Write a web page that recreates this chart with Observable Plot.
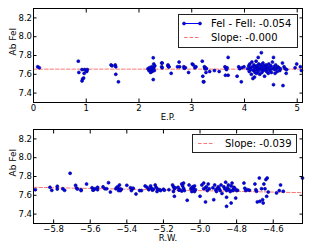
<!DOCTYPE html>
<html>
<head>
<meta charset="utf-8">
<script src="https://cdn.jsdelivr.net/npm/d3@7"></script>
<script src="https://cdn.jsdelivr.net/npm/@observablehq/plot@0.6"></script>
<style>
  html, body { margin: 0; padding: 0; background: #fff; }
  #chart { width: 312px; height: 250px; }
  #chart svg { display: block; }
</style>
</head>
<body>
<div id="chart"></div>
<script>
// ---- Top panel: excitation potential vs abundance ----
const epX = [0.08,0.11,0.85,0.86,0.92,0.93,0.92,0.95,0.96,0.97,1.00,1.01,1.02,
  1.47,1.49,1.55,1.56,1.56,1.61,
  2.17,2.19,2.20,2.21,2.22,2.23,2.24,2.25,2.26,2.27,2.27,2.28,2.28,2.29,2.30,
  2.43,2.44,2.43,2.44,2.55,2.55,2.56,2.57,2.61,
  2.73,2.76,2.77,2.85,2.86,2.88,2.94,3.01,3.03,3.06,3.08,
  3.20,3.21,3.22,3.23,3.24,3.25,3.26,3.27,3.28,3.34,3.43,3.52,
  3.63,3.64,3.65,3.66,3.69,3.69,3.67,
  3.86,3.89,3.91,3.94,3.95,3.99,
  4.06,4.08,4.09,4.10,4.11,4.12,4.13,4.14,4.15,4.16,4.17,4.18,4.19,4.19,4.20,4.21,4.22,4.22,4.23,4.24,
  4.25,4.26,4.26,4.27,4.28,4.29,4.30,4.31,4.32,4.32,4.33,4.34,4.35,4.36,4.37,4.38,4.39,4.40,4.41,4.42,
  4.43,4.44,4.45,4.46,4.47,4.48,4.50,4.51,4.52,4.53,4.55,4.55,4.56,4.57,4.58,4.59,4.60,4.62,4.63,4.65,
  4.67,4.68,4.72,4.73,4.75,4.77,4.79,4.80,
  4.96,4.99,5.06,5.08];
const epAb = [7.68,7.67,7.74,7.62,7.65,7.55,7.53,7.56,7.61,7.65,7.64,7.63,7.65,
  7.70,7.69,7.70,7.68,7.60,7.52,
  7.66,7.64,7.67,7.65,7.62,7.66,7.68,7.63,7.65,7.776,7.544,7.71,7.67,7.64,7.69,
  7.72,7.72,7.68,7.67,7.69,7.70,7.68,7.68,7.61,
  7.68,7.73,7.68,7.68,7.665,7.67,7.62,7.71,7.70,7.67,7.68,
  7.74,7.58,7.52,7.52,7.68,7.66,7.67,7.62,7.66,7.63,7.64,7.63,
  7.68,7.59,7.66,7.65,7.78,7.59,7.67,
  7.58,7.68,7.66,7.52,7.67,7.68,
  7.66,7.69,7.63,7.71,7.67,7.65,7.60,7.73,7.68,7.555,7.64,7.70,7.57,7.66,7.62,7.68,7.74,7.65,7.61,7.69,
  7.66,7.78,7.63,7.71,7.67,7.60,7.65,7.70,7.83,7.68,7.62,7.66,7.72,7.64,7.69,7.58,7.67,7.65,7.70,7.63,
  7.68,7.66,7.61,7.71,7.67,7.64,7.69,7.62,7.66,7.73,7.78,7.49,7.68,7.65,7.61,7.70,7.66,7.63,7.68,7.67,
  7.64,7.66,7.72,7.48,7.68,7.66,7.61,7.65,
  7.67,7.71,7.68,7.64];
const epFitX = [0, 5.1];
const epFitY = [7.655, 7.655];
const epLegend = ["FeI - FeII: -0.054", "Slope: -0.000"];

// ---- Bottom panel: reduced width vs abundance ----
const rwX = [-5.90,
  -5.82,-5.81,-5.78,-5.78,-5.75,-5.74,
  -5.71,
  -5.68,-5.675,-5.67,-5.65,-5.65,
  -5.62,
  -5.59,-5.58,-5.575,-5.56,-5.56,-5.585,
  -5.53,-5.52,-5.51,
  -5.50,-5.49,
  -5.46,-5.455,-5.45,-5.44,-5.44,-5.435,-5.445,-5.43,
  -5.40,
  -5.38,-5.37,-5.365,-5.375,
  -5.35,
  -5.33,-5.32,
  -5.30,-5.29,-5.28,-5.27,-5.265,-5.26,-5.28,-5.255,-5.245,-5.24,-5.235,-5.23,-5.22,-5.215,-5.20,-5.195,
  -5.17,
  -5.15,-5.145,-5.14,-5.145,-5.135,-5.14,
  -5.12,-5.11,-5.10,-5.09,-5.095,-5.09,-5.085,-5.10,-5.115,
  -5.07,
  -5.06,-5.05,-5.045,-5.04,-5.03,-5.035,-5.03,-5.045,-5.025,
  -5.00,
  -4.99,-4.98,-4.98,-4.97,-4.965,-4.96,-4.955,-4.95,-4.97,
  -4.93,-4.925,-4.92,-4.915,-4.91,-4.905,-4.90,-4.895,-4.89,-4.885,-4.88,
  -4.87,-4.865,-4.86,-4.855,-4.855,-4.855,-4.85,-4.845,-4.84,-4.835,
  -4.83,-4.83,-4.825,-4.82,-4.82,-4.815,-4.81,-4.805,-4.80,-4.795,
  -4.76,-4.755,-4.75,-4.74,-4.73,
  -4.70,-4.695,-4.691,-4.687,-4.676,-4.673,-4.664,-4.658,-4.655,-4.651,-4.645,-4.640,-4.633,-4.627,-4.636,
  -4.582,-4.567,-4.56,-4.545,
  -4.44];
const rwAb = [7.66,
  7.685,7.653,7.696,7.667,7.67,7.653,
  7.834,
  7.706,7.678,7.667,7.66,7.65,
  7.72,
  7.68,7.66,7.67,7.685,7.66,7.655,
  7.69,7.67,7.67,
  7.734,7.635,
  7.67,7.68,7.69,7.71,7.67,7.65,7.65,7.665,
  7.706,
  7.68,7.67,7.675,7.65,
  7.614,
  7.65,7.65,
  7.70,7.685,7.67,7.70,7.675,7.655,7.66,7.665,7.71,7.685,7.64,7.665,7.66,7.65,7.665,7.655,
  7.66,
  7.71,7.69,7.67,7.64,7.68,7.59,
  7.685,7.66,7.72,7.73,7.70,7.675,7.65,7.645,7.655,
  7.547,
  7.71,7.67,7.68,7.69,7.70,7.67,7.64,7.64,7.66,
  7.59,
  7.71,7.73,7.67,7.68,7.69,7.65,7.72,7.67,7.53,
  7.68,7.553,7.71,7.66,7.64,7.675,7.69,7.67,7.65,7.71,7.62,
  7.69,7.67,7.74,7.58,7.483,7.65,7.68,7.71,7.66,7.64,
  7.518,7.70,7.73,7.66,7.65,7.685,7.675,7.57,7.65,7.655,
  7.73,7.675,7.65,7.66,7.655,
  7.72,7.66,7.643,7.53,7.784,7.536,7.67,7.553,7.518,7.72,7.67,7.767,7.784,7.635,7.589,
  7.625,7.65,7.71,7.643,
  7.784];
const rwFitX = [-5.91, -4.44];
const rwFitY = [7.685, 7.628];
const rwLegend = ["Slope: -0.039"];

const yTicks = [7.4, 7.6, 7.8, 8.0, 8.2];
const epTicks = [0, 1, 2, 3, 4, 5];
const rwTicks = [-5.8, -5.6, -5.4, -5.2, -5.0, -4.8, -4.6];

const FONT = "DejaVu Sans, sans-serif";
const dotFill = "#0000ff", dotStroke = "#00007a";
const fitColor = "#ff0000";

function panel({xs, ys, fitX, fitY, xDomain, xTicks, xFormat, xLabel, marginTop, marginBottom}) {
  const pts = xs.map((x, i) => ({x, y: ys[i]}));
  const fit = fitX.map((x, i) => ({x, y: fitY[i]}));
  return Plot.plot({
    width: 312,
    height: 125,
    marginLeft: 33,
    marginRight: 10,
    marginTop,
    marginBottom,
    style: {fontFamily: FONT, fontSize: "8.5px", background: "white", color: "black"},
    x: {domain: xDomain},
    y: {domain: [7.3, 8.3]},
    marks: [
      Plot.line(fit, {x: "x", y: "y", stroke: fitColor, strokeOpacity: 0.55, strokeWidth: 1, strokeDasharray: "3.5,2"}),
      Plot.dot(pts, {x: "x", y: "y", r: 1.5, fill: dotFill, stroke: dotStroke, strokeWidth: 0.6}),
      Plot.frame({stroke: "black", strokeWidth: 1}),
      Plot.axisX({ticks: xTicks, anchor: "bottom", tickSize: -3.5, tickPadding: 5.5, label: null,
        tickFormat: d => d3.format(xFormat)(d).replace("-", "\u2212")}),
      Plot.axisX({ticks: xTicks, anchor: "top", tickSize: -3.5, label: null, tickFormat: () => ""}),
      Plot.axisY({ticks: yTicks, anchor: "left", tickSize: -3.5, tickPadding: 5, label: null, tickFormat: d3.format(".1f")}),
      Plot.axisY({ticks: yTicks, anchor: "right", tickSize: -3.5, label: null, tickFormat: () => ""}),
      Plot.text([xLabel], {frameAnchor: "bottom", dy: 17, fontSize: 8.5, text: d => d}),
      Plot.text(["Ab FeI"], {frameAnchor: "left", dx: -20, rotate: -90, fontSize: 9, text: d => d})
    ]
  });
}

function addLegend(svg, {x, y, w, h, entries}) {
  const g = d3.select(svg).append("g").attr("font-family", FONT).attr("font-size", 10)
    .attr("text-anchor", "start");
  g.append("rect").attr("x", x + 0.5).attr("y", y + 0.5).attr("width", w).attr("height", h)
    .attr("fill", "white").attr("stroke", "#222").attr("stroke-width", 1);
  entries.forEach((e, i) => {
    const cy = y + 9.5 + i * 14;
    if (e.kind === "dots") {
      g.append("line").attr("x1", x + 6).attr("x2", x + 22).attr("y1", cy).attr("y2", cy)
        .attr("stroke", dotFill).attr("stroke-width", 1);
      [x + 6, x + 22].forEach(cx => g.append("circle").attr("cx", cx).attr("cy", cy).attr("r", 1.5)
        .attr("fill", dotFill).attr("stroke", dotStroke).attr("stroke-width", 0.6));
    } else {
      g.append("line").attr("x1", x + 6).attr("x2", x + 22).attr("y1", cy).attr("y2", cy)
        .attr("stroke", fitColor).attr("stroke-opacity", 0.55).attr("stroke-dasharray", "3.5,2");
    }
    g.append("text").attr("x", x + 33).attr("y", cy + 3.5).attr("fill", "black")
      .attr("text-anchor", "start").text(e.label);
  });
}

const topPanel = panel({xs: epX, ys: epAb, fitX: epFitX, fitY: epFitY, xDomain: [0, 5.1], xTicks: epTicks,
  xFormat: "d", xLabel: "E.P.", marginTop: 8, marginBottom: 23});
addLegend(topPanel, {x: 178, y: 14, w: 119, h: 33,
  entries: [{kind: "dots", label: epLegend[0]}, {kind: "dash", label: epLegend[1]}]});

const bottomPanel = panel({xs: rwX, ys: rwAb, fitX: rwFitX, fitY: rwFitY, xDomain: [-5.91, -4.44], xTicks: rwTicks,
  xFormat: ".1f", xLabel: "R.W.", marginTop: 4, marginBottom: 27});
addLegend(bottomPanel, {x: 192, y: 9, w: 104, h: 18,
  entries: [{kind: "dash", label: rwLegend[0]}]});

const chart = document.getElementById("chart");
chart.appendChild(topPanel);
chart.appendChild(bottomPanel);
</script>
</body>
</html>
